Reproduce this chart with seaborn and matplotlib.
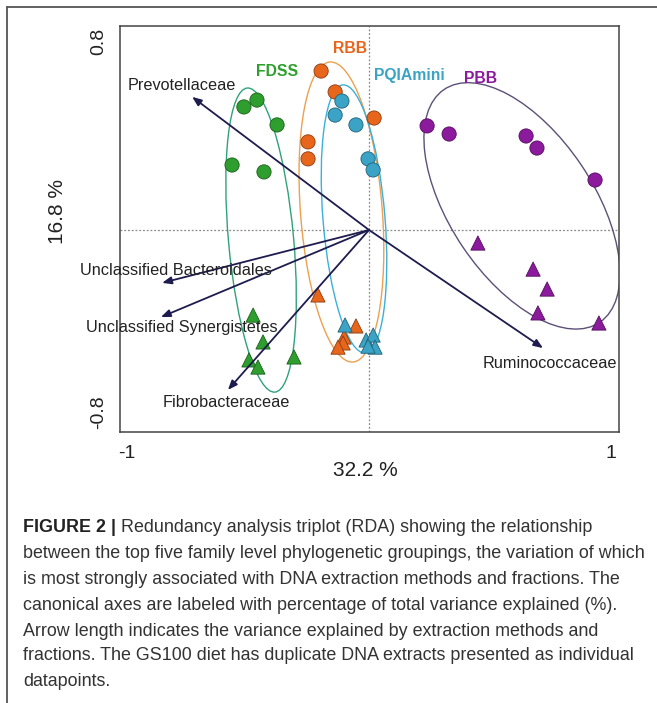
import numpy as np
import pandas as pd
import matplotlib
matplotlib.use("Agg")
import matplotlib.pyplot as plt
import matplotlib.transforms as mtrans
from matplotlib.patches import Ellipse
from matplotlib.lines import Line2D
import seaborn as sns

# ---------------- data ----------------
groups = ["FDSS", "RBB", "PQIAmini", "PBB"]
fraction = ["circle"] * 5 + ["triangle"] * 5

fdss_x = [-0.517, -0.463, -0.380, -0.566, -0.434, -0.479, -0.438, -0.496, -0.459, -0.310]
fdss_y = [0.500, 0.528, 0.427, 0.264, 0.236, -0.346, -0.455, -0.528, -0.557, -0.516]
rbb_x = [-0.198, -0.140, 0.021, -0.252, -0.252, -0.211, -0.054, -0.103, -0.107, -0.128]
rbb_y = [0.646, 0.561, 0.455, 0.358, 0.289, -0.264, -0.390, -0.435, -0.459, -0.476]
pqia_x = [-0.112, -0.140, -0.054, -0.004, 0.017, -0.099, -0.012, 0.017, 0.025, -0.004]
pqia_y = [0.524, 0.467, 0.427, 0.289, 0.244, -0.386, -0.447, -0.427, -0.476, -0.472]
pbb_x = [0.240, 0.331, 0.649, 0.694, 0.934, 0.450, 0.678, 0.736, 0.698, 0.950]
pbb_y = [0.423, 0.390, 0.382, 0.333, 0.203, -0.053, -0.159, -0.240, -0.337, -0.378]

# ellipse parameters per group (centre, full axes, angle in degrees)
ell_cx = [-0.446, -0.114, -0.062, 0.632]
ell_cy = [-0.041, 0.073, 0.045, 0.098]
ell_w = [1.241, 1.223, 1.093, 1.144]
ell_h = [0.269, 0.338, 0.256, 0.592]
ell_angle = [95.3, 94.5, 94.8, -55.6]

# group label positions
grp_lab_x = [-0.380, -0.079, 0.165, 0.459]
grp_lab_y = [0.646, 0.736, 0.626, 0.614]

# species (biplot arrows)
species = ["Prevotellaceae", "Unclassified Bacteroidales", "Unclassified Synergistetes",
           "Fibrobacteraceae", "Ruminococcaceae"]
arrow_x = [-0.731, -0.855, -0.860, -0.583, 0.719]
arrow_y = [0.541, -0.215, -0.354, -0.650, -0.480]
sp_lab_x = [-0.775, -0.797, -0.775, -0.589, 0.748]
sp_lab_y = [0.589, -0.163, -0.398, -0.703, -0.541]

x_title = "32.2 %"
y_title = "16.8 %"
x_ticks = [-1, -0.5, 0, 0.5, 1]
x_ticklabels = ["-1", "", "", "", "1"]
y_ticks = [-0.8, -0.6, -0.4, -0.2, 0, 0.2, 0.4, 0.6, 0.8]
y_ticklabels = ["-0.8", "", "", "", "", "", "", "", "0.8"]

caption_bold = "FIGURE 2 |"
caption_lines = [
    " Redundancy analysis triplot (RDA) showing the relationship",
    "between the top five family level phylogenetic groupings, the variation of which",
    "is most strongly associated with DNA extraction methods and fractions. The",
    "canonical axes are labeled with percentage of total variance explained (%).",
    "Arrow length indicates the variance explained by extraction methods and",
    "fractions. The GS100 diet has duplicate DNA extracts presented as individual",
    "datapoints.",
]

# ---------------- styling ----------------
point_colors = {"FDSS": "#2e9e2e", "RBB": "#e8661c", "PQIAmini": "#3aa3c6", "PBB": "#8c1a9c"}
ellipse_colors = ["#2fa27a", "#eda050", "#3ab0da", "#5d5078"]
arrow_color = "#1e1b4f"

sns.set_style("white")
plt.rcParams["font.family"] = ["Liberation Sans", "DejaVu Sans"]

df = pd.concat([
    pd.DataFrame({"RDA1": fdss_x, "RDA2": fdss_y, "group": "FDSS", "fraction": fraction}),
    pd.DataFrame({"RDA1": rbb_x, "RDA2": rbb_y, "group": "RBB", "fraction": fraction}),
    pd.DataFrame({"RDA1": pqia_x, "RDA2": pqia_y, "group": "PQIAmini", "fraction": fraction}),
    pd.DataFrame({"RDA1": pbb_x, "RDA2": pbb_y, "group": "PBB", "fraction": fraction}),
], ignore_index=True)

fig = plt.figure(figsize=(6.57, 7.03), dpi=100)
ax = fig.add_axes([120 / 657, 1 - 432 / 703, 499 / 657, 406 / 703])

ax.set_xlim(-1.029, 1.033)
ax.set_ylim(-0.821, 0.829)

ax.axhline(0, color="#8a8a8a", lw=0.9, ls=(0, (1.5, 1.5)), zorder=1)
ax.axvline(0, color="#8a8a8a", lw=0.9, ls=(0, (1.5, 1.5)), zorder=1)

# ellipses
for i, g in enumerate(groups):
    ax.add_patch(Ellipse((ell_cx[i], ell_cy[i]), ell_w[i], ell_h[i], angle=ell_angle[i],
                         fill=False, edgecolor=ellipse_colors[i], lw=1.0, zorder=2))

# arrows
for i, sp in enumerate(species):
    ax.annotate("", xy=(arrow_x[i], arrow_y[i]), xytext=(0, 0),
                arrowprops=dict(arrowstyle="-|>,head_length=0.55,head_width=0.22",
                                color=arrow_color, lw=1.3, shrinkA=0, shrinkB=0),
                zorder=4)
    ax.text(sp_lab_x[i], sp_lab_y[i], sp, ha="center", va="center", fontsize=11.7,
            color="#222222", zorder=5)

# points
sns.scatterplot(data=df, x="RDA1", y="RDA2", hue="group", style="fraction",
                palette=point_colors, markers={"circle": "o", "triangle": "^"},
                s=105, linewidth=0.6, legend=False, ax=ax, zorder=3)
for coll in ax.collections:
    fc = coll.get_facecolors()
    if len(fc):
        ec = fc.copy()
        ec[:, :3] = ec[:, :3] * 0.6
        coll.set_edgecolors(ec)

# group labels
for i, g in enumerate(groups):
    ax.text(grp_lab_x[i], grp_lab_y[i], g, ha="center", va="center", fontsize=11.3,
            fontweight="bold", color=point_colors[g], zorder=5)

# axes styling
ax.set_xticks(x_ticks)
ax.set_xticklabels(x_ticklabels)
ax.set_yticks(y_ticks)
ax.set_yticklabels(y_ticklabels, rotation=90, va="center")
ax.tick_params(direction="out", length=5, width=1, color="#444444", labelsize=14,
               labelcolor="#222222", pad=4)
ylabs = ax.get_yticklabels()
ylabs[0].set_transform(ylabs[0].get_transform() +
                       mtrans.ScaledTranslation(0, 15 / 100, fig.dpi_scale_trans))
ylabs[-1].set_transform(ylabs[-1].get_transform() +
                        mtrans.ScaledTranslation(0, -8 / 100, fig.dpi_scale_trans))
for sp in ax.spines.values():
    sp.set_color("#444444")
    sp.set_linewidth(1.1)
ax.set_xlabel(x_title, fontsize=15, color="#222222")
ax.set_ylabel(y_title, fontsize=15, color="#222222")
ax.xaxis.set_label_coords(0.491, -0.072)
ax.yaxis.set_label_coords(-0.126, 0.542)
ax.xaxis.label.set_va("top")
ax.yaxis.label.set_va("center")

# outer frame (top and left edges)
fig.add_artist(Line2D([7 / 657, 1.0], [1 - 7 / 703, 1 - 7 / 703], color="#555555", lw=1.3))
fig.add_artist(Line2D([7 / 657, 7 / 657], [0.0, 1 - 7 / 703], color="#555555", lw=1.3))

# caption
cap_font = ["Liberation Sans Narrow", "Liberation Sans", "DejaVu Sans"]
cap_size = 12.9
cap_x0 = 23 / 657
line_y = [528, 554, 579, 605, 631, 656, 682]
fig.canvas.draw()
bt = fig.text(cap_x0, 1 - line_y[0] / 703, caption_bold, fontsize=cap_size, fontweight="bold",
              family=cap_font, color="#222222", va="center", ha="left")
fig.canvas.draw()
bb = bt.get_window_extent()
fig.text(bb.x1 / fig.bbox.width, 1 - line_y[0] / 703, caption_lines[0], fontsize=cap_size,
         family=cap_font, color="#333333", va="center", ha="left")
for k in range(1, len(caption_lines)):
    fig.text(cap_x0, 1 - line_y[k] / 703, caption_lines[k], fontsize=cap_size,
             family=cap_font, color="#333333", va="center", ha="left")

fig.savefig("out.png", dpi=100)
